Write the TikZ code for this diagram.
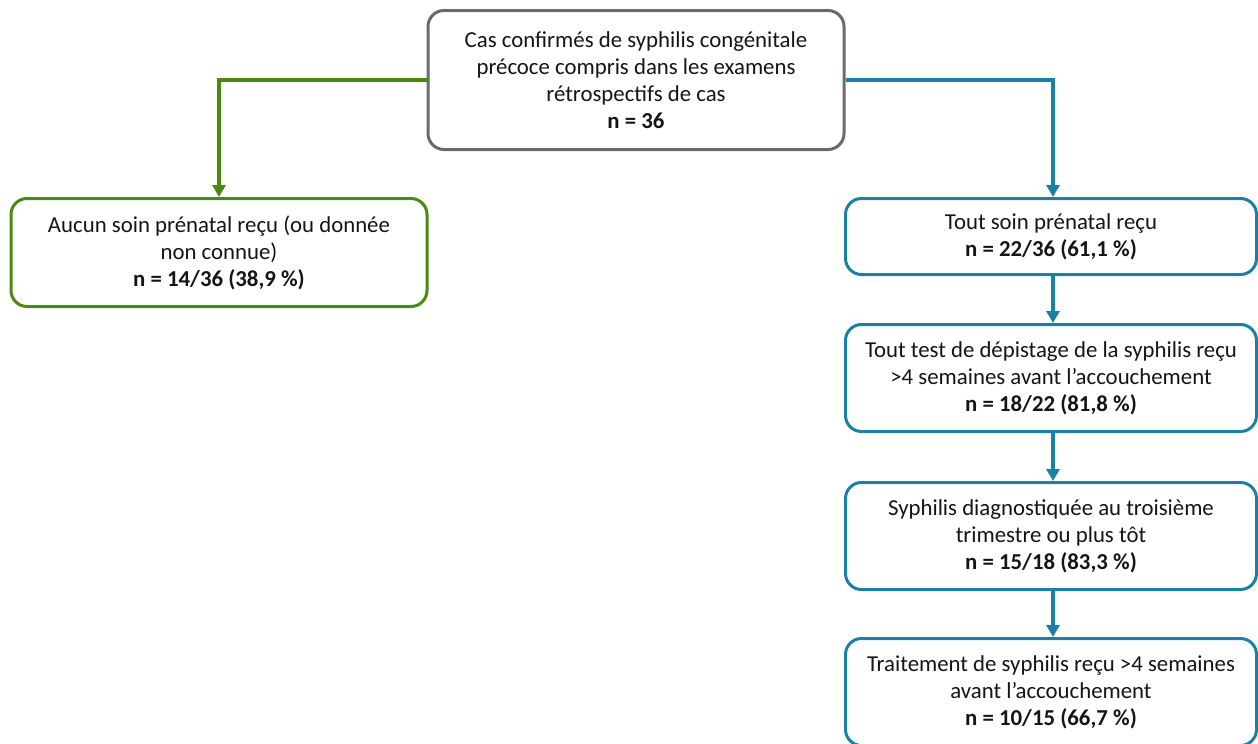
\documentclass[tikz,border=0pt]{standalone}
\usepackage{fontspec}
\setmainfont{Carlito}
\usetikzlibrary{arrows.meta}
\definecolor{cgreen}{HTML}{4A8A12}
\definecolor{cblue}{HTML}{1B80A6}
\definecolor{cgray}{HTML}{6B6B6D}
\definecolor{ctext}{HTML}{151515}
\tikzset{
  box/.style={draw, line width=3pt, rounded corners=16pt, fill=white, align=center,
    text=ctext, font=\fontsize{22.8pt}{27pt}\selectfont, inner sep=0pt, minimum width=416pt},
  graybox/.style={box, draw=cgray},
  greenbox/.style={box, draw=cgreen},
  bluebox/.style={box, draw=cblue, minimum width=411pt},
  conn/.style={line width=3.2pt, -{Triangle[width=13pt,length=12pt]}},
}
\begin{document}
\begin{tikzpicture}[x=1pt,y=1pt]
\useasboundingbox (0,0) rectangle (1258,-744);
\clip (0,0) rectangle (1258,-744);
\node[graybox, minimum height=139pt] (top) at (636,-80)
  {Cas confirmés de syphilis congénitale\\précoce compris dans les examens\\rétrospectifs de cas\\\textbf{n = 36}};
\node[greenbox, minimum height=108pt] (left) at (219,-252.5)
  {Aucun soin prénatal reçu (ou donnée\\non connue)\\\textbf{n = 14/36 (38,9 \%)}};
\node[bluebox, minimum height=76pt] (r1) at (1051,-236.5)
  {Tout soin prénatal reçu\\\textbf{n = 22/36 (61,1 \%)}};
\node[bluebox, minimum height=107pt] (r2) at (1051,-378)
  {Tout test de dépistage de la syphilis reçu\\>4 semaines avant l’accouchement\\\textbf{n = 18/22 (81,8 \%)}};
\node[bluebox, minimum height=107pt] (r3) at (1051,-536)
  {Syphilis diagnostiquée au troisième\\trimestre ou plus tôt\\\textbf{n = 15/18 (83,3 \%)}};
\node[bluebox, minimum height=107pt] (r4) at (1051,-692)
  {Traitement de syphilis reçu >4 semaines\\avant l’accouchement\\\textbf{n = 10/15 (66,7 \%)}};
\draw[conn, draw=cgreen] (top.west |- 0,-80) -| (left.north);
\draw[conn, draw=cblue] (top.east |- 0,-80) -| ([xshift=2pt]r1.north);
\draw[conn, draw=cblue] ([xshift=2pt]r1.south) -- ([xshift=2pt]r2.north);
\draw[conn, draw=cblue] ([xshift=2pt]r2.south) -- ([xshift=2pt]r3.north);
\draw[conn, draw=cblue] ([xshift=2pt]r3.south) -- ([xshift=2pt]r4.north);
\end{tikzpicture}
\end{document}
